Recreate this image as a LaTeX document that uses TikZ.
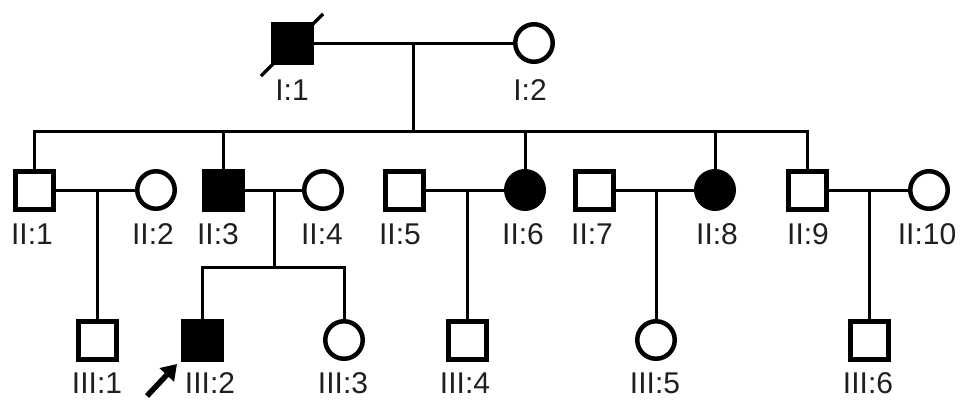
\documentclass[tikz,border=0pt]{standalone}
\usepackage{fontspec}
\setmainfont{Liberation Sans}
\usetikzlibrary{arrows.meta}
\begin{document}
\begin{tikzpicture}[x=1pt,y=-1pt,
  male/.style={draw,rectangle,minimum size=38pt,inner sep=0pt,line width=5pt,fill=white},
  female/.style={draw,circle,minimum size=37.5pt,inner sep=0pt,line width=4.5pt,fill=white},
  aff/.style={fill=black},
  rel/.style={line width=3pt},
  lab/.style={font=\fontsize{30}{34}\selectfont,inner sep=0pt,text=black!88}]
\useasboundingbox (0,0) rectangle (970,410);
% generation I
\node[male,aff] (I1) at (292,43) {};
\node[female] (I2) at (534,43) {};
% generation II
\node[male] (II1) at (34,190) {};
\node[female] (II2) at (156,190) {};
\node[male,aff] (II3) at (223,190) {};
\node[female] (II4) at (323,190) {};
\node[male] (II5) at (404,190) {};
\node[female,aff] (II6) at (525,190) {};
\node[male] (II7) at (594,190) {};
\node[female,aff] (II8) at (715,190) {};
\node[male] (II9) at (807,190) {};
\node[female] (II10) at (929,190) {};
% generation III
\node[male] (III1) at (97,340) {};
\node[male,aff] (III2) at (202,340) {};
\node[female] (III3) at (344,340) {};
\node[male] (III4) at (467,340) {};
\node[female] (III5) at (656,340) {};
\node[male] (III6) at (869,340) {};
% deceased slash
\draw[line width=3.5pt] ([shift={(-31,33)}]I1.center) -- ([shift={(31,-29)}]I1.center);
% marriages and descent
\coordinate (m1) at (413,43);
\coordinate (s1) at (413,131);
\draw[rel] (I1.east) -- (I2.west);
\draw[rel] (m1) -- (s1);
\draw[rel] (II1.north) |- (II9.north |- s1) -- (II9.north);
\draw[rel] (II3.north) -- (II3.north |- s1);
\draw[rel] (II6.north) -- (II6.north |- s1);
\draw[rel] (II8.north) -- (II8.north |- s1);
\coordinate (m2) at (97,190);
\draw[rel] (II1.east) -- (II2.west);
\draw[rel] (m2) -- (III1.north);
\coordinate (m3) at (274,190);
\coordinate (s3) at (274,267);
\draw[rel] (II3.east) -- (II4.west);
\draw[rel] (m3) -- (s3);
\draw[rel] (III2.north) |- (III3.north |- s3) -- (III3.north);
\coordinate (m4) at (467,190);
\draw[rel] (II5.east) -- (II6.west);
\draw[rel] (m4) -- (III4.north);
\coordinate (m5) at (656,190);
\draw[rel] (II7.east) -- (II8.west);
\draw[rel] (m5) -- (III5.north);
\coordinate (m6) at (869,190);
\draw[rel] (II9.east) -- (II10.west);
\draw[rel] (m6) -- (III6.north);
% proband arrow
\coordinate (pa) at (147,396);
\coordinate (pb) at (177,364);
\draw[line width=5.5pt,-{Triangle[length=15pt,width=19pt]}] (pa) -- (pb);
% labels
\node[lab] at (292,90) {I:1};
\node[lab] at (530,90) {I:2};
\node[lab] at (32,234) {II:1};
\node[lab] at (153,234) {II:2};
\node[lab] at (218,234) {II:3};
\node[lab] at (322,234) {II:4};
\node[lab] at (400,234) {II:5};
\node[lab] at (523,234) {II:6};
\node[lab] at (592,234) {II:7};
\node[lab] at (717,234) {II:8};
\node[lab] at (808,234) {II:9};
\node[lab] at (927,234) {II:10};
\node[lab] at (97,383) {III:1};
\node[lab] at (210,383) {III:2};
\node[lab] at (343,383) {III:3};
\node[lab] at (465,383) {III:4};
\node[lab] at (655,383) {III:5};
\node[lab] at (868,383) {III:6};
\end{tikzpicture}
\end{document}
